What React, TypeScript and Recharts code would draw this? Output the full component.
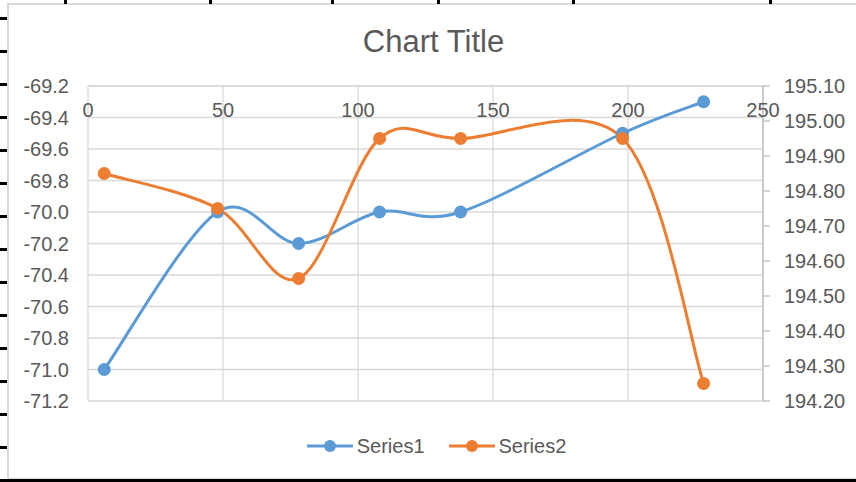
import { LineChart, Line, XAxis, YAxis, CartesianGrid, Legend } from "recharts";

const xValues = [6, 48, 78, 108, 138, 198, 228];
const series1 = [-71.0, -70.0, -70.2, -70.0, -70.0, -69.5, -69.3];
const series2 = [194.85, 194.75, 194.55, 194.95, 194.95, 194.95, 194.25];
const xTicks = [0, 50, 100, 150, 200, 250];
const leftTicks = [-71.2, -71.0, -70.8, -70.6, -70.4, -70.2, -70.0, -69.8, -69.6, -69.4, -69.2];
const rightTicks = [194.2, 194.3, 194.4, 194.5, 194.6, 194.7, 194.8, 194.9, 195.0, 195.1];

const data = xValues.map((x, i) => ({ x, Series1: series1[i], Series2: series2[i] }));

const FONT = '"Liberation Sans", Arial, sans-serif';
const TEXT = "#595959";
const BLUE = "#5B9BD5";
const ORANGE = "#ED7D31";

// Excel-style smoothed line (uniform Catmull-Rom as cubic beziers)
const excelSmooth = (context: any) => {
  let pts: number[][] = [];
  return {
    areaStart() {},
    areaEnd() {},
    lineStart() {
      pts = [];
    },
    point(x: number, y: number) {
      pts.push([+x, +y]);
    },
    lineEnd() {
      if (!pts.length) return;
      context.moveTo(pts[0][0], pts[0][1]);
      for (let i = 0; i < pts.length - 1; i++) {
        const p0 = pts[Math.max(i - 1, 0)];
        const p1 = pts[i];
        const p2 = pts[i + 1];
        const p3 = pts[Math.min(i + 2, pts.length - 1)];
        context.bezierCurveTo(
          p1[0] + (p2[0] - p0[0]) / 6,
          p1[1] + (p2[1] - p0[1]) / 6,
          p2[0] - (p3[0] - p1[0]) / 6,
          p2[1] - (p3[1] - p1[1]) / 6,
          p2[0],
          p2[1]
        );
      }
    },
  };
};

const XTick = ({ x, y, payload }: any) => (
  <text x={x} y={y + 31} textAnchor="middle" fill={TEXT} fontSize={20} fontFamily={FONT}>
    {payload.value}
  </text>
);

const LegendContent = ({ payload }: any) => (
  <div
    style={{
      display: "flex",
      justifyContent: "center",
      alignItems: "center",
      height: 30,
      paddingLeft: 17,
      fontFamily: FONT,
      fontSize: 20,
      color: TEXT,
    }}
  >
    {(payload || []).map((p: any, i: number) => (
      <div key={p.value} style={{ display: "flex", alignItems: "center", marginLeft: i ? 24 : 0 }}>
        <svg width={46} height={30} style={{ marginRight: 4 }}>
          <line x1={0} y1={15} x2={46} y2={15} stroke={p.color} strokeWidth={3} />
          <circle cx={23} cy={15} r={6} fill={p.color} />
        </svg>
        <span>{p.value}</span>
      </div>
    ))}
  </div>
);

const leftRowMarks = Array.from({ length: 14 }, (_, i) => 17 + i * 33);
const topColMarks = [64, 209, 331, 437, 572, 769];

export default function App() {
  return (
    <div style={{ position: "absolute", left: 0, top: 0, width: 856, height: 482, overflow: "hidden", background: "#fff" }}>
      {/* sheet frame */}
      <div style={{ position: "absolute", left: 7, top: 3, width: 900, height: 473, border: "2px solid #D9D9D9" }} />
      <div style={{ position: "absolute", left: 0, top: 479, width: 856, height: 3, background: "#000" }} />
      {leftRowMarks.map((y) => (
        <div key={y} style={{ position: "absolute", left: 0, top: y, width: 7, height: 3, background: "#000" }} />
      ))}
      {topColMarks.map((x) => (
        <div key={x} style={{ position: "absolute", left: x, top: 0, width: 3, height: 4, background: "#000" }} />
      ))}
      <div
        style={{
          position: "absolute",
          left: 11,
          top: 26,
          width: 845,
          textAlign: "center",
          fontFamily: FONT,
          fontSize: 31,
          lineHeight: "31px",
          color: TEXT,
        }}
      >
        Chart Title
      </div>
      <div style={{ position: "absolute", left: 0, top: 0 }}>
        <LineChart width={856} height={482} data={data} margin={{ top: 56, right: 8, bottom: 51, left: 8 }}>
          <CartesianGrid stroke="#D9D9D9" strokeWidth={1.3} yAxisId="left" />
          <XAxis
            type="number"
            dataKey="x"
            orientation="top"
            domain={[0, 250]}
            ticks={xTicks}
            height={30}
            axisLine={{ stroke: "#D9D9D9", strokeWidth: 1.3 }}
            tickLine={false}
            tickSize={0}
            tickMargin={0}
            tick={<XTick />}
          />
          <YAxis
            yAxisId="left"
            orientation="left"
            domain={[-71.2, -69.2]}
            ticks={leftTicks}
            width={80}
            axisLine={false}
            tickLine={false}
            tickSize={6}
            tickMargin={13}
            tick={{ fill: TEXT, fontSize: 20, fontFamily: FONT }}
            tickFormatter={(v: number) => v.toFixed(1)}
          />
          <YAxis
            yAxisId="right"
            orientation="right"
            domain={[194.2, 195.1]}
            ticks={rightTicks}
            width={85}
            axisLine={{ stroke: "#BFBFBF", strokeWidth: 1.3 }}
            tickLine={{ stroke: "#BFBFBF", strokeWidth: 1.3 }}
            tickSize={7}
            tickMargin={14}
            tick={{ fill: TEXT, fontSize: 20, fontFamily: FONT }}
            tickFormatter={(v: number) => v.toFixed(2)}
          />
          <Legend
            verticalAlign="bottom"
            content={<LegendContent />}
            wrapperStyle={{ top: 431, bottom: "auto", left: 0, width: 856, height: 30 }}
          />
          <Line
            yAxisId="left"
            dataKey="Series1"
            name="Series1"
            type={excelSmooth as any}
            stroke={BLUE}
            strokeWidth={3}
            dot={{ r: 6.5, fill: BLUE, stroke: BLUE, strokeWidth: 0 }}
            activeDot={false}
            isAnimationActive={false}
          />
          <Line
            yAxisId="right"
            dataKey="Series2"
            name="Series2"
            type={excelSmooth as any}
            stroke={ORANGE}
            strokeWidth={3}
            dot={{ r: 6.5, fill: ORANGE, stroke: ORANGE, strokeWidth: 0 }}
            activeDot={false}
            isAnimationActive={false}
          />
        </LineChart>
      </div>
    </div>
  );
}
